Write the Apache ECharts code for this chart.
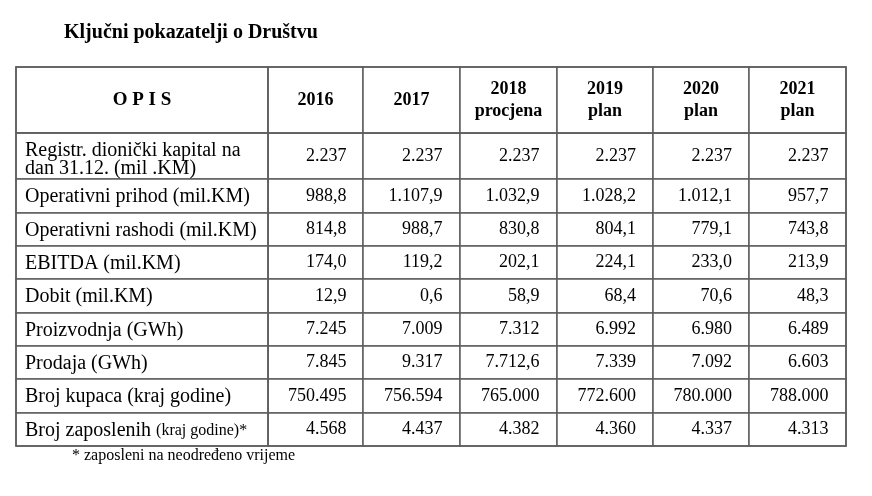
<!DOCTYPE html>
<html>
<head>
<meta charset="utf-8">
<script src="https://cdn.jsdelivr.net/npm/echarts@6/dist/echarts.min.js"></script>
<style>html,body{margin:0;padding:0;background:#fff}#c{width:872px;height:496px}</style>
</head>
<body>
<div id="c"></div>
<script>
var titleText = 'Ključni pokazatelji o Društvu';
var footnote = '* zaposleni na neodređeno vrijeme';
var cornerLabel = 'O P I S';
var years = ['2016', '2017', '2018\nprocjena', '2019\nplan', '2020\nplan', '2021\nplan'];
var rowLabels = [
  'Registr. dionički kapital na\ndan 31.12. (mil .KM)',
  'Operativni prihod (mil.KM)',
  'Operativni rashodi (mil.KM)',
  'EBITDA (mil.KM)',
  'Dobit (mil.KM)',
  'Proizvodnja (GWh)',
  'Prodaja (GWh)',
  'Broj kupaca (kraj godine)',
  'Broj zaposlenih {s|(kraj godine)*}'
];
var kapital   = ['2.237', '2.237', '2.237', '2.237', '2.237', '2.237'];
var prihod    = ['988,8', '1.107,9', '1.032,9', '1.028,2', '1.012,1', '957,7'];
var rashodi   = ['814,8', '988,7', '830,8', '804,1', '779,1', '743,8'];
var ebitda    = ['174,0', '119,2', '202,1', '224,1', '233,0', '213,9'];
var dobit     = ['12,9', '0,6', '58,9', '68,4', '70,6', '48,3'];
var proizv    = ['7.245', '7.009', '7.312', '6.992', '6.980', '6.489'];
var prodaja   = ['7.845', '9.317', '7.712,6', '7.339', '7.092', '6.603'];
var kupci     = ['750.495', '756.594', '765.000', '772.600', '780.000', '788.000'];
var zaposleni = ['4.568', '4.437', '4.382', '4.360', '4.337', '4.313'];
var rows = [kapital, prihod, rashodi, ebitda, dobit, proizv, prodaja, kupci, zaposleni];

// layout (sizes only)
var colSizes = [95, 97, 97, 96, 96, 97];
var rowSizes = [46, 34, 33, 33, 34, 33, 33, 34, 33];
var FONT = 'Liberation Serif';
var LINE = '#5e5e5e';

var bodyData = [];
rows.forEach(function (r, j) {
  r.forEach(function (v, i) {
    bodyData.push({ coord: [i, j], value: v });
  });
});

var chart = echarts.init(document.getElementById('c'), null, { renderer: 'canvas' });
chart.setOption({
  backgroundColor: '#fff',
  animation: false,
  title: [
    { text: titleText, left: 64, top: 23, padding: 0, textStyle: { fontFamily: FONT, fontWeight: 'bold', fontSize: 20, color: '#000' } },
    { text: footnote, left: 72, top: 448, padding: 0, textStyle: { fontFamily: FONT, fontWeight: 'normal', fontSize: 16, color: '#000' } }
  ],
  matrix: {
    left: 16, top: 67, width: 830, height: 379,
    backgroundStyle: { color: '#fff', borderColor: LINE, borderWidth: 1.5 },
    x: {
      data: years.map(function (y, i) { return { value: y, size: colSizes[i] }; }),
      levelSize: 66,
      label: { fontFamily: FONT, fontWeight: 'bold', fontSize: 18, color: '#000', lineHeight: 22, overflow: 'none', offset: [0, 1] },
      itemStyle: { color: '#fff', borderColor: LINE, borderWidth: 1.5 },
      dividerLineStyle: { color: LINE, width: 1.5 }
    },
    y: {
      data: rowLabels.map(function (y, i) { return { value: y, size: rowSizes[i] }; }),
      levelSize: 252,
      label: { fontFamily: FONT, fontSize: 20, color: '#000', lineHeight: 18, align: 'left', verticalAlign: 'middle',
        offset: [-117, 0], padding: [9, 0, 0, 0], overflow: 'none', width: 240,
        rich: { s: { fontFamily: FONT, fontSize: 16, color: '#000' } } },
      itemStyle: { color: '#fff', borderColor: LINE, borderWidth: 1.5 },
      dividerLineStyle: { color: LINE, width: 1.5 }
    },
    corner: {
      data: [{ coord: [-1, -1], value: cornerLabel }],
      label: { fontFamily: FONT, fontWeight: 'bold', fontSize: 19, color: '#000', overflow: 'none' },
      itemStyle: { color: '#fff', borderColor: LINE, borderWidth: 1.5 }
    },
    body: {
      data: bodyData,
      label: { fontFamily: FONT, fontSize: 18, color: '#000', align: 'right', offset: [34, 0], overflow: 'none' },
      itemStyle: { color: '#fff', borderColor: LINE, borderWidth: 1.5 }
    }
  }
});
</script>
</body>
</html>
